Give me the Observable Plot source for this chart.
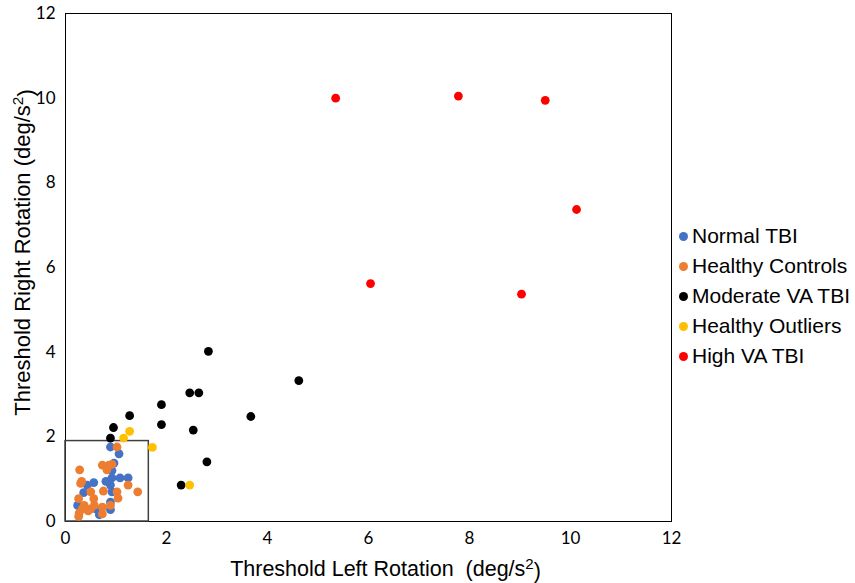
<!DOCTYPE html>
<html>
<head>
<meta charset="utf-8">
<script src="https://cdn.jsdelivr.net/npm/d3@7"></script>
<script src="https://cdn.jsdelivr.net/npm/@observablehq/plot@0.6"></script>
<style>
  html, body { margin: 0; padding: 0; background: #fff; }
  #wrap { position: relative; width: 855px; height: 583px; }
  #legend { position: absolute; left: 679px; top: 221px; font-family: "Liberation Sans", Arial, sans-serif; font-size: 21px; color: #000; }
  #legend .item { display: flex; align-items: center; height: 30px; }
  #legend .sw { width: 9px; height: 9px; border-radius: 50%; margin-right: 4px; }
  g[aria-label="x-axis label"] text { font-family: "Liberation Sans", Arial, sans-serif; font-size: 21.5px; }
  g[aria-label="y-axis label"] text { font-family: "Liberation Sans", Arial, sans-serif; font-size: 22px; }
</style>
</head>
<body>
<div id="wrap"><div id="chart"></div><div id="legend"></div></div>
<script>
const seriesNames = ["Normal TBI", "Healthy Controls", "Moderate VA TBI", "Healthy Outliers", "High VA TBI"];
const seriesColors = ["#4472C4", "#ED7D31", "#000000", "#FFC000", "#FF0000"];

const normalTBI = [
  [0.89,1.76],[1.06,1.60],[0.96,1.38],[0.92,1.03],[1.08,1.03],[1.24,1.03],[0.89,0.86],
  [0.92,0.70],[0.56,0.92],[0.43,0.86],[0.36,0.68],[0.89,0.46],[0.89,0.28],[0.67,0.16],
  [0.24,0.38],[0.60,0.30],[0.80,0.95],[0.92,1.20]
];
const healthyControls = [
  [1.02,1.76],[0.28,1.22],[0.73,1.33],[0.86,1.33],[0.82,1.22],[0.92,1.35],[0.32,0.95],
  [0.30,0.90],[0.50,0.70],[0.75,0.72],[1.02,0.70],[1.04,0.55],[1.24,0.86],[1.43,0.70],
  [0.26,0.54],[0.26,0.12],[0.50,0.30],[0.73,0.34],[0.73,0.18],[0.89,0.38],[0.56,0.54],
  [0.33,0.30],[0.37,0.38],[0.57,0.38],[0.27,0.20],[0.45,0.25]
];
const moderateVATBI = [
  [2.83,4.02],[4.62,3.33],[2.46,3.04],[2.64,3.04],[1.90,2.76],[1.90,2.29],[3.67,2.48],
  [2.53,2.16],[2.80,1.41],[2.29,0.86],[1.27,2.50],[0.95,2.22],[0.89,1.97]
];
const healthyOutliers = [[1.27,2.13],[1.15,1.97],[1.72,1.75],[2.46,0.86]];
const highVATBI = [[5.35,10.0],[7.78,10.05],[9.50,9.95],[10.12,7.37],[6.04,5.62],[9.03,5.37]];

const boxX = [0, 1.65];
const boxY = [0, 1.9];
const xTicks = [0, 2, 4, 6, 8, 10, 12];
const yTicks = [0, 2, 4, 6, 8, 10, 12];
const xLabel = ["Threshold Left Rotation  (deg/s", "2", ")"];
const yLabel = ["Threshold Right Rotation (deg/s", "2", ")"];

const groups = [normalTBI, healthyControls, moderateVATBI, healthyOutliers, highVATBI];
const data = groups.flatMap((g, i) => g.map(([x, y]) => ({x, y, series: seriesNames[i]})));

const chart = Plot.plot({
  width: 855,
  height: 583,
  marginLeft: 65,
  marginRight: 184,
  marginTop: 13,
  marginBottom: 62,
  style: {background: "#fff", overflow: "visible"},
  x: {domain: [0, 12], ticks: xTicks},
  y: {domain: [0, 12], ticks: yTicks},
  color: {domain: seriesNames, range: seriesColors},
  marks: [
    Plot.frame({stroke: "#000", strokeWidth: 1}),
    Plot.rect([{x1: boxX[0], x2: boxX[1], y1: boxY[0], y2: boxY[1]}], {x1: "x1", x2: "x2", y1: "y1", y2: "y2", fill: "none", stroke: "#404040", strokeWidth: 1.5}),
    Plot.dot(data, {x: "x", y: "y", fill: "series", r: 4.4, stroke: "none"}),
    Plot.axisX({ticks: xTicks, tickSize: 0, tickPadding: 10, fontSize: 17, fontFamily: "Lato, sans-serif", label: xLabel.join(""), labelArrow: "none", labelAnchor: "center", labelOffset: 54, tickFormat: d => String(d)}),
    Plot.axisY({ticks: yTicks, tickSize: 0, tickPadding: 10, fontSize: 17, fontFamily: "Lato, sans-serif", label: yLabel.join(""), labelArrow: "none", labelAnchor: "center", labelOffset: 51, tickFormat: d => String(d)})
  ]
});
document.getElementById("chart").appendChild(chart);

// superscript the "2" in the axis labels
function superscript(sel, parts, dx) {
  const t = d3.select(chart).select(sel + " text");
  if (t.empty()) return;
  t.text(null);
  if (dx) t.attr("dx", dx);
  t.append("tspan").text(parts[0]);
  t.append("tspan").attr("dy", "-0.45em").attr("font-size", "0.7em").text(parts[1]);
  t.append("tspan").attr("dy", "0.45em").text(parts[2]);
}
superscript('g[aria-label="x-axis label"]', xLabel, 17);
superscript('g[aria-label="y-axis label"]', yLabel, 15);

const legend = document.getElementById("legend");
seriesNames.forEach((name, i) => {
  const item = document.createElement("div");
  item.className = "item";
  const sw = document.createElement("span");
  sw.className = "sw";
  sw.style.background = seriesColors[i];
  const label = document.createElement("span");
  label.textContent = name;
  item.appendChild(sw);
  item.appendChild(label);
  legend.appendChild(item);
});
</script>
</body>
</html>
